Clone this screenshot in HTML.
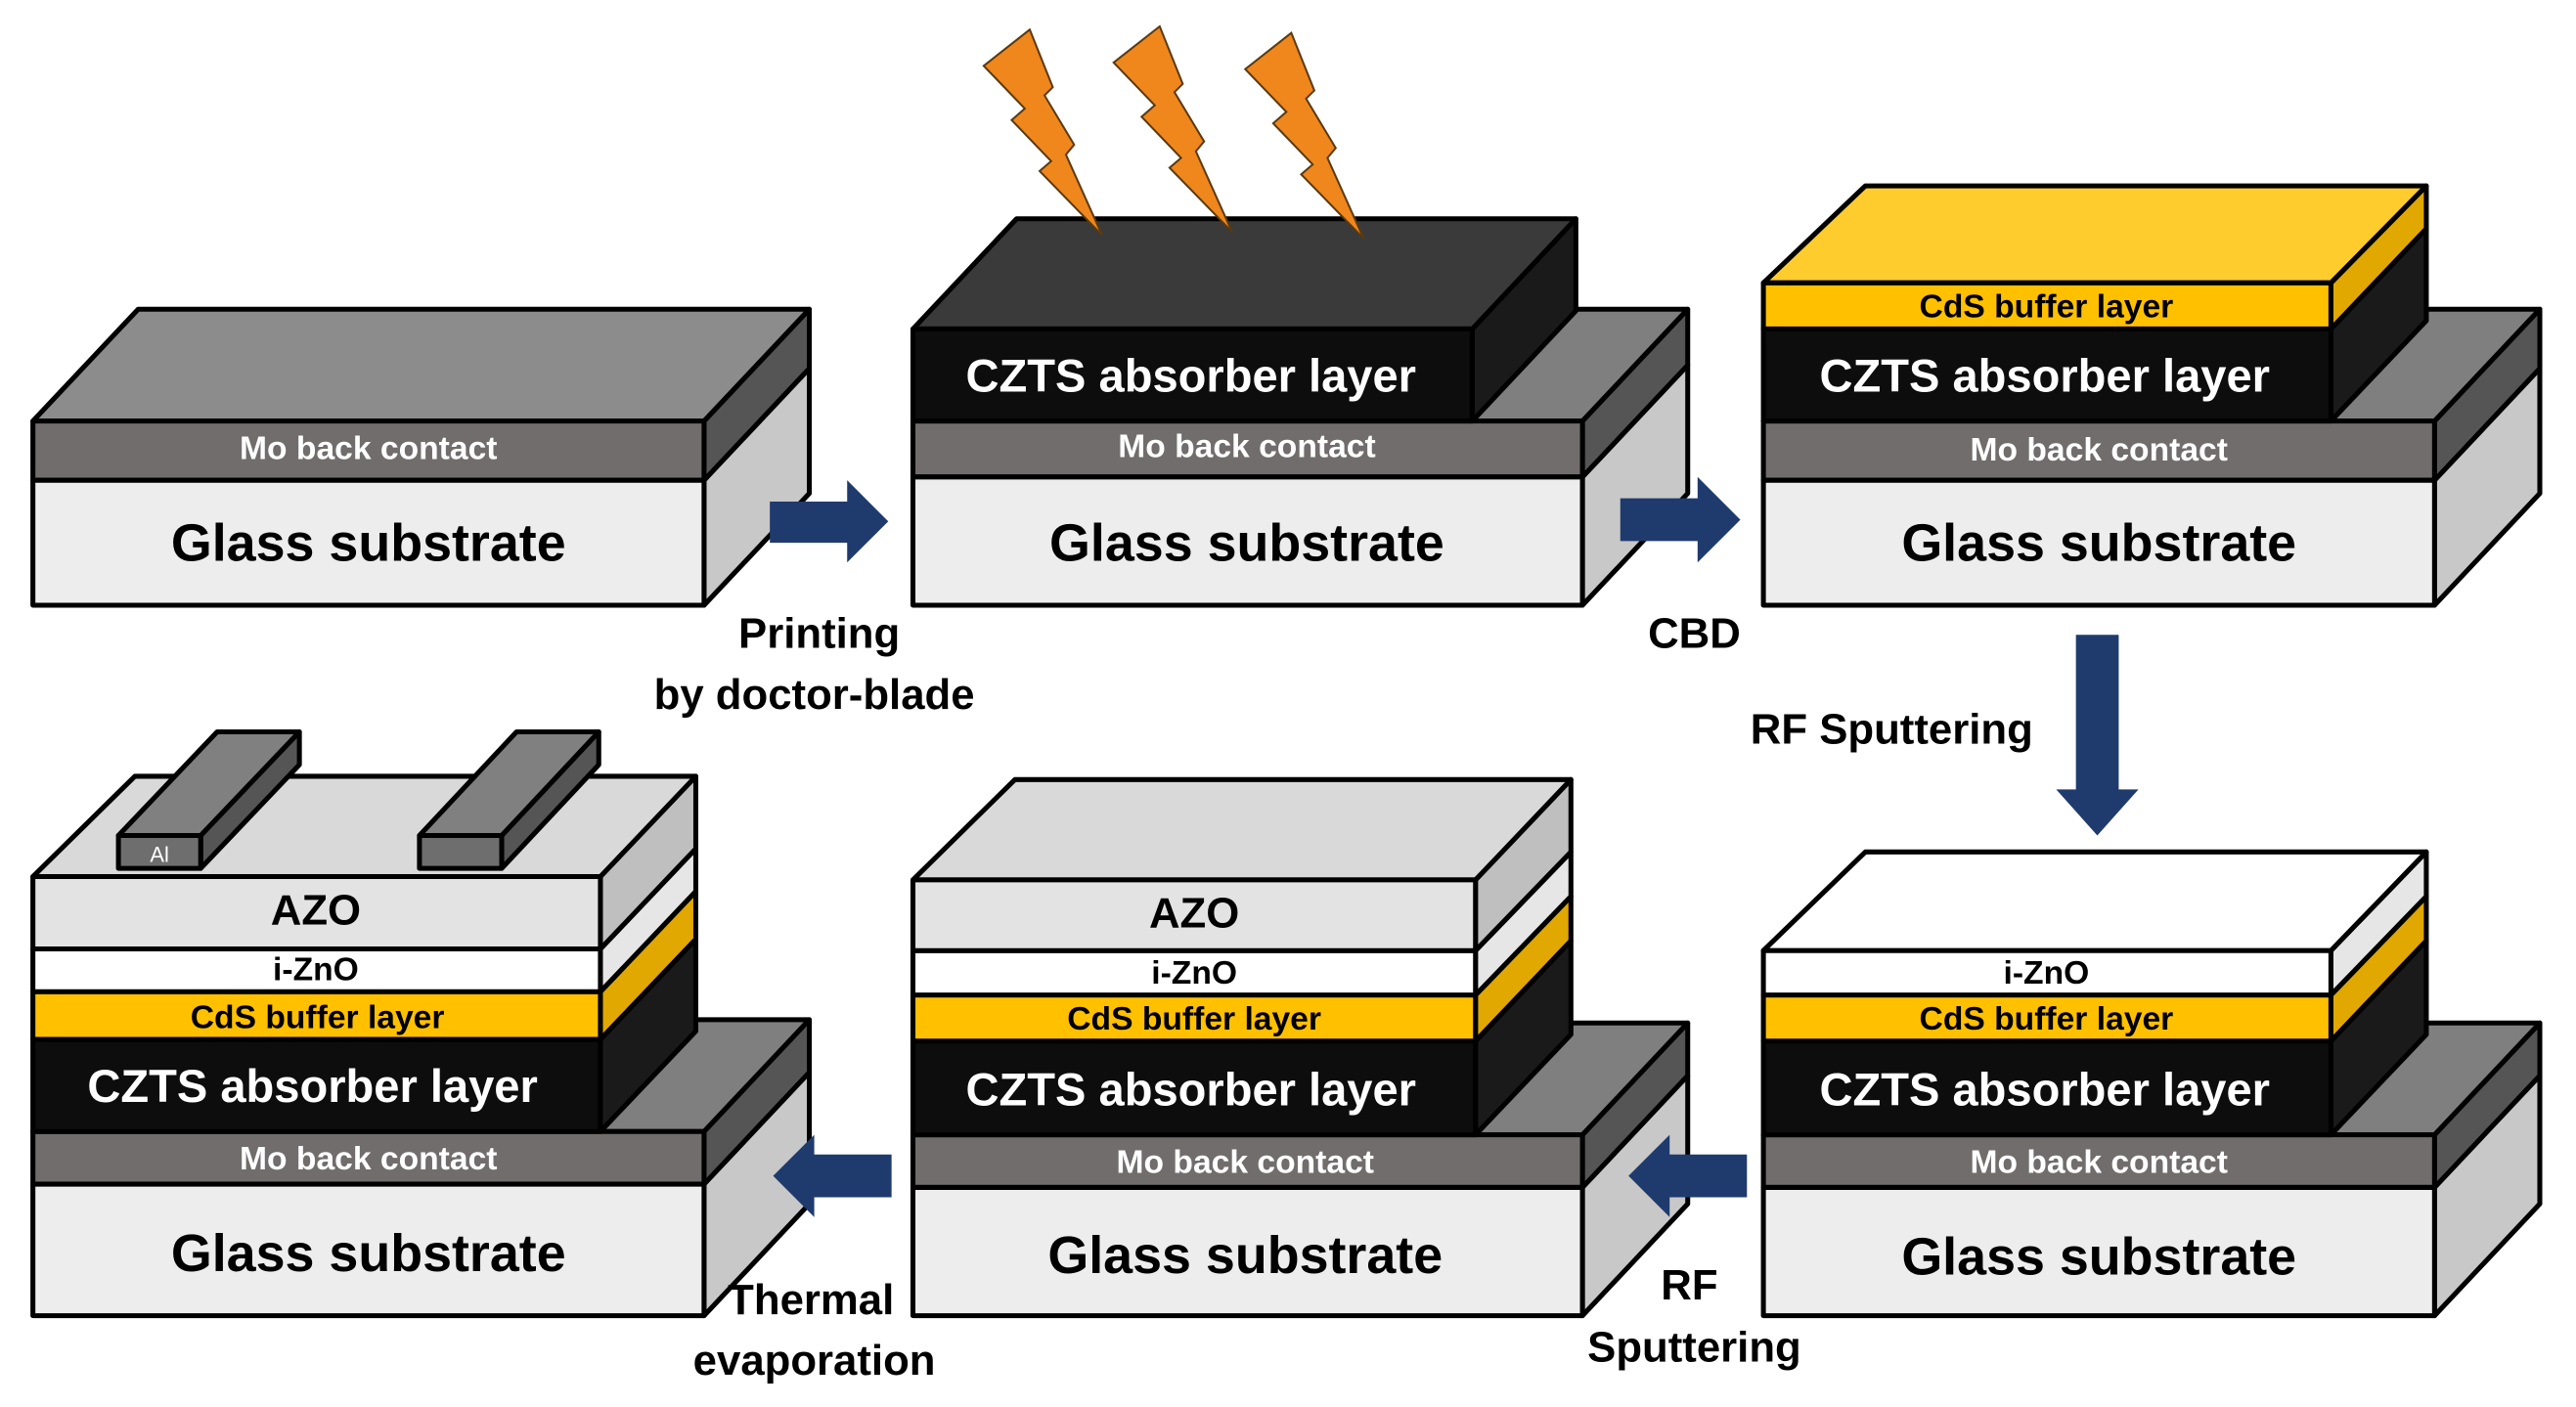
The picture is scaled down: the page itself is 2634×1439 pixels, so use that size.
<!DOCTYPE html>
<html><head><meta charset="utf-8"><style>
html,body{margin:0;padding:0;background:#fff;}
svg{display:block;}
text{font-family:"Liberation Sans",Arial,sans-serif;font-weight:bold;text-anchor:middle;}
.g{font-size:32px;fill:#000}
.m{font-size:20px;fill:#fff}
.c{font-size:28px;fill:#fff}
.b{font-size:20px;fill:#000}
.z{font-size:20px;fill:#000}
.a{font-size:26px;fill:#000}
.l{font-size:26px;fill:#000}
</style></head><body>
<svg width="2634" height="1439" viewBox="0 0 1566 855.5" xmlns="http://www.w3.org/2000/svg">
<defs>
<polygon id="bolt" points="0,0 14,35 9,40 27,70 22,76 44,125 6,86 13,80 -11,55 -3,48 -28,22" fill="#F0871C" stroke="#5a3a10" stroke-width="1.2"/>
</defs>
<g stroke="#000" stroke-width="3" stroke-linejoin="round">
<!-- Block 1 -->
<polygon points="428,292 492,224 492,300 428,368" fill="#C8C8C8"/>
<polygon points="428,256 492,188 492,224 428,292" fill="#555"/>
<polygon points="20,256 84,188 492,188 428,256" fill="#8C8C8C"/>
<rect x="20" y="256" width="408" height="36" fill="#716D6D"/>
<rect x="20" y="292" width="408" height="76" fill="#EDEDED"/>

<!-- Block 2 -->
<polygon points="962,290 1026,222 1026,300 962,368" fill="#C8C8C8"/>
<polygon points="962,256 1026,188 1026,222 962,290" fill="#555"/>
<polygon points="555,256 619,188 1026,188 962,256" fill="#7F7F7F"/>
<rect x="555" y="256" width="407" height="34" fill="#716D6D"/>
<rect x="555" y="290" width="407" height="78" fill="#EDEDED"/>
<polygon points="895,200 958,133 958,189 895,256" fill="#1A1A1A"/>
<polygon points="555,200 618,133 958,133 895,200" fill="#3A3A3A"/>
<rect x="555" y="200" width="340" height="56" fill="#0D0D0D"/>

<!-- Block 3 -->
<polygon points="1480,292 1544,224 1544,300 1480,368" fill="#C8C8C8"/>
<polygon points="1480,256 1544,188 1544,224 1480,292" fill="#555"/>
<polygon points="1072,256 1136,188 1544,188 1480,256" fill="#7F7F7F"/>
<rect x="1072" y="256" width="408" height="36" fill="#716D6D"/>
<rect x="1072" y="292" width="408" height="76" fill="#EDEDED"/>
<polygon points="1417,200 1475,139 1475,195 1417,256" fill="#1A1A1A"/>
<rect x="1072" y="200" width="345" height="56" fill="#0D0D0D"/>
<polygon points="1417,172 1475,113 1475,139 1417,200" fill="#E0A800"/>
<polygon points="1072,172 1134,113 1475,113 1417,172" fill="#FFCC2E"/>
<rect x="1072" y="172" width="345" height="28" fill="#FFC000"/>

<!-- Block 4 (bottom right) -->
<polygon points="1480,722 1544,654 1544,732 1480,800" fill="#C8C8C8"/>
<polygon points="1480,690 1544,622 1544,654 1480,722" fill="#555"/>
<polygon points="1072,690 1136,622 1544,622 1480,690" fill="#7F7F7F"/>
<rect x="1072" y="690" width="408" height="32" fill="#716D6D"/>
<rect x="1072" y="722" width="408" height="78" fill="#EDEDED"/>
<polygon points="1417,633 1475,572 1475,629 1417,690" fill="#1A1A1A"/>
<rect x="1072" y="633" width="345" height="57" fill="#0D0D0D"/>
<polygon points="1417,605 1475,545 1475,572 1417,633" fill="#E0A800"/>
<rect x="1072" y="605" width="345" height="28" fill="#FFC000"/>
<polygon points="1417,578 1475,518 1475,545 1417,605" fill="#E6E6E6"/>
<polygon points="1072,578 1134,518 1475,518 1417,578" fill="#FFFFFF"/>
<rect x="1072" y="578" width="345" height="27" fill="#FFFFFF"/>

<!-- Block 5 (bottom middle) -->
<polygon points="962,722 1026,654 1026,732 962,800" fill="#C8C8C8"/>
<polygon points="962,690 1026,622 1026,654 962,722" fill="#555"/>
<polygon points="555,690 619,622 1026,622 962,690" fill="#7F7F7F"/>
<rect x="555" y="690" width="407" height="32" fill="#716D6D"/>
<rect x="555" y="722" width="407" height="78" fill="#EDEDED"/>
<polygon points="897,633 955,572 955,629 897,690" fill="#1A1A1A"/>
<rect x="555" y="633" width="342" height="57" fill="#0D0D0D"/>
<polygon points="897,605 955,545 955,572 897,633" fill="#E0A800"/>
<rect x="555" y="605" width="342" height="28" fill="#FFC000"/>
<polygon points="897,578 955,518 955,545 897,605" fill="#E6E6E6"/>
<rect x="555" y="578" width="342" height="27" fill="#FFFFFF"/>
<polygon points="897,535 955,474 955,518 897,578" fill="#BFBFBF"/>
<polygon points="555,535 617,474 955,474 897,535" fill="#D9D9D9"/>
<rect x="555" y="535" width="342" height="43" fill="#E3E3E3"/>

<!-- Block 6 (bottom left) -->
<polygon points="428,720 492,652 492,732 428,800" fill="#C8C8C8"/>
<polygon points="428,688 492,620 492,652 428,720" fill="#555"/>
<polygon points="20,688 84,620 492,620 428,688" fill="#7F7F7F"/>
<rect x="20" y="688" width="408" height="32" fill="#716D6D"/>
<rect x="20" y="720" width="408" height="80" fill="#EDEDED"/>
<polygon points="365,632 423,571 423,627 365,688" fill="#1A1A1A"/>
<rect x="20" y="632" width="345" height="56" fill="#0D0D0D"/>
<polygon points="365,603 423,542 423,571 365,632" fill="#E0A800"/>
<rect x="20" y="603" width="345" height="29" fill="#FFC000"/>
<polygon points="365,577 423,516 423,542 365,603" fill="#E6E6E6"/>
<rect x="20" y="577" width="345" height="26" fill="#FFFFFF"/>
<polygon points="365,533 423,472 423,516 365,577" fill="#BFBFBF"/>
<polygon points="20,533 82,472 423,472 365,533" fill="#D9D9D9"/>
<rect x="20" y="533" width="345" height="44" fill="#E3E3E3"/>
<!-- Al bars -->
<polygon points="122,508 182,445 182,465 122,528" fill="#555"/>
<polygon points="72,508 132,445 182,445 122,508" fill="#808080"/>
<rect x="72" y="508" width="50" height="20" fill="#6E6E6E"/>
<polygon points="305,508 364,445 364,465 305,528" fill="#555"/>
<polygon points="255,508 314,445 364,445 305,508" fill="#808080"/>
<rect x="255" y="508" width="50" height="20" fill="#6E6E6E"/>
</g>

<!-- bolts -->
<use href="#bolt" x="626" y="18"/>
<use href="#bolt" x="705" y="16"/>
<use href="#bolt" x="785" y="20"/>

<!-- arrows -->
<g fill="#1F3B6E">
<polygon points="468,305 515,305 515,292 540,317 515,342 515,330 468,330"/>
<polygon points="985,303 1032,303 1032,290 1058,316 1032,342 1032,329 985,329"/>
<polygon points="1262,386 1288,386 1288,480 1300,480 1275,508 1250,480 1262,480"/>
<polygon points="542,702 495,702 495,690 470,715 495,740 495,728 542,728"/>
<polygon points="1062,702 1015,702 1015,690 990,715 1015,740 1015,728 1062,728"/>
</g>

<!-- labels -->
<text class="m" x="224" y="279">Mo back contact</text>
<text class="g" x="224" y="341">Glass substrate</text>
<text class="c" x="724" y="238">CZTS absorber layer</text>
<text class="m" x="758" y="278">Mo back contact</text>
<text class="g" x="758" y="341">Glass substrate</text>
<text class="b" x="1244" y="193">CdS buffer layer</text>
<text class="c" x="1243" y="238">CZTS absorber layer</text>
<text class="m" x="1276" y="280">Mo back contact</text>
<text class="g" x="1276" y="341">Glass substrate</text>

<text class="z" x="1244" y="598">i-ZnO</text>
<text class="b" x="1244" y="626">CdS buffer layer</text>
<text class="c" x="1243" y="672">CZTS absorber layer</text>
<text class="m" x="1276" y="713">Mo back contact</text>
<text class="g" x="1276" y="775">Glass substrate</text>

<text class="a" x="726" y="564">AZO</text>
<text class="z" x="726" y="598">i-ZnO</text>
<text class="b" x="726" y="626">CdS buffer layer</text>
<text class="c" x="724" y="672">CZTS absorber layer</text>
<text class="m" x="757" y="713">Mo back contact</text>
<text class="g" x="757" y="774">Glass substrate</text>

<text class="a" x="192" y="562">AZO</text>
<text class="z" x="192" y="596">i-ZnO</text>
<text class="b" x="193" y="625">CdS buffer layer</text>
<text class="c" x="190" y="670">CZTS absorber layer</text>
<text class="m" x="224" y="711">Mo back contact</text>
<text class="g" x="224" y="773">Glass substrate</text>
<text x="97" y="524" style="font-size:13px;fill:#fff;font-weight:normal">Al</text>

<text class="l" x="498" y="394">Printing</text>
<text class="l" x="495" y="431">by doctor-blade</text>
<text class="l" x="1030" y="394">CBD</text>
<text class="l" x="1150" y="452">RF Sputtering</text>
<text class="l" x="1027" y="790">RF</text>
<text class="l" x="1030" y="828">Sputtering</text>
<text class="l" x="493" y="799">Thermal</text>
<text class="l" x="495" y="836">evaporation</text>
</svg>
</body></html>
